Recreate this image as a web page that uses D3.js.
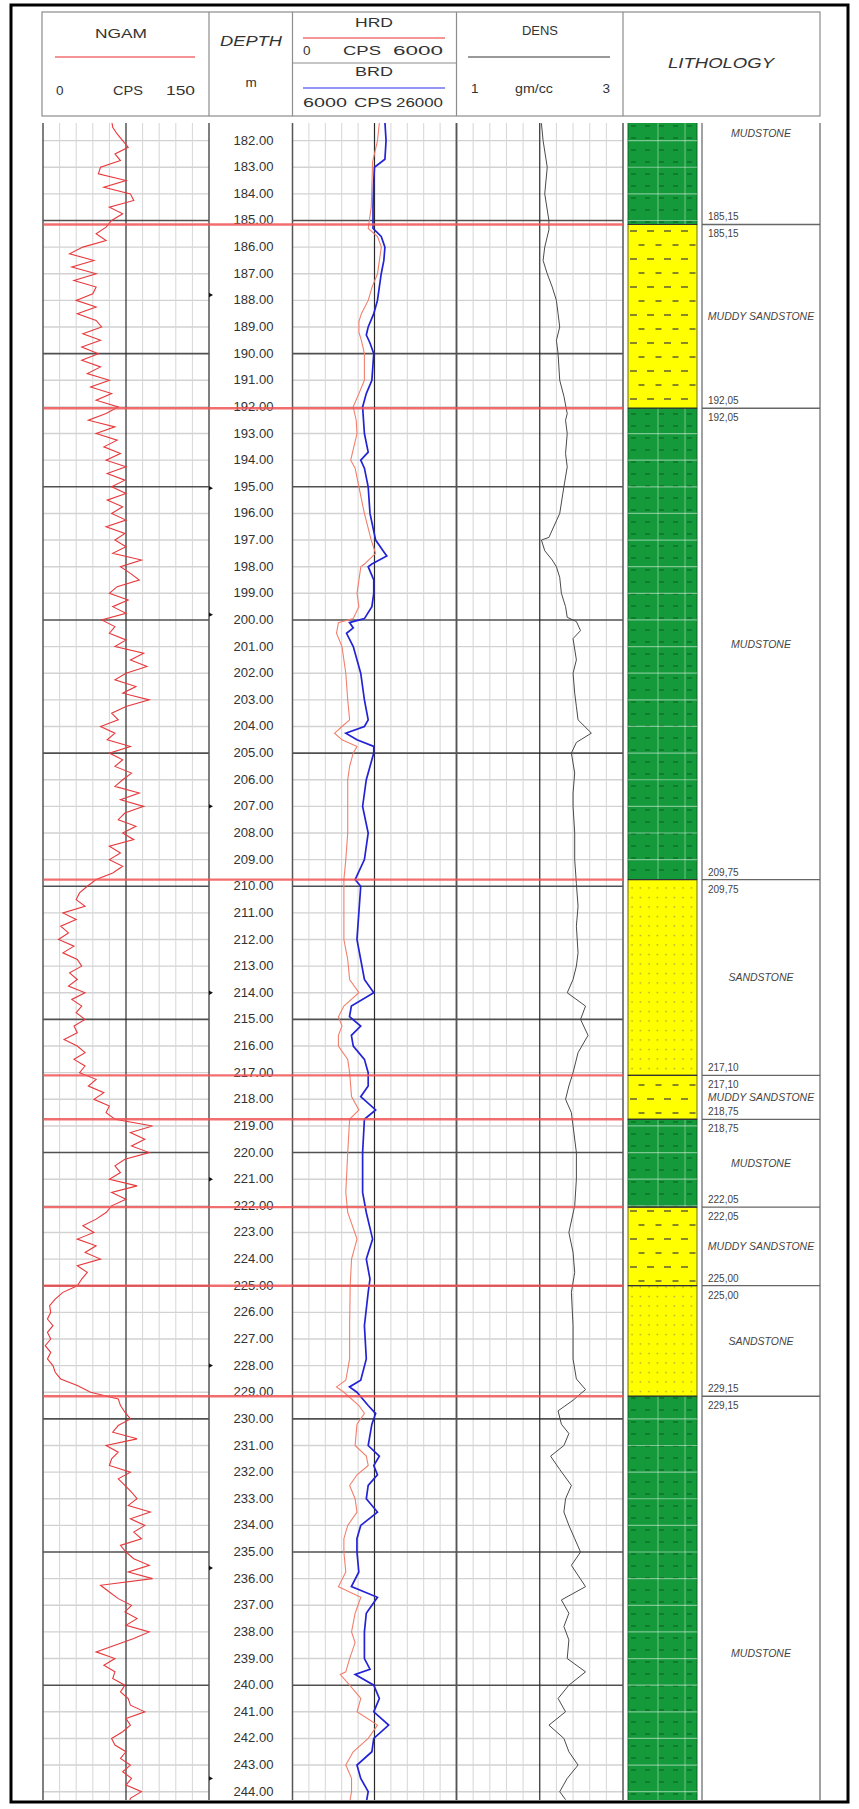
<!DOCTYPE html>
<html><head><meta charset="utf-8">
<script src="https://cdn.jsdelivr.net/npm/d3@7/dist/d3.min.js"></script>
<style>
body{margin:0;background:#fff}
svg{display:block}
text{font-family:"Liberation Sans",Arial,Helvetica,sans-serif}
</style>
</head><body>
<svg id="chart" width="859" height="1809"></svg>
<script>
// ---------------- DATA ----------------
// NGAM (CPS), sampled every 0.25 m starting at 181.25 m
const ngamStart = 181.25, ngamStep = 0.25;
const ngamValues = [
  62,63,67,
  72,77,65,70, 52,50,75,55, 79,82,60,72, 62,57,48,57, 36,24,46,26,
  48,28,48,45, 30,48,31,48, 53,36,52,35, 50,35,52,40, 60,43,62,48,
  68,57,41,65, 48,67,55,70, 57,75,58,74, 62,75,58,72, 62,75,57,74,
  65,75,63,89, 70,79,87,67, 60,77,63,75, 53,65,60,75, 65,91,79,94,
  75,65,84,72, 96,75,62,68, 52,65,58,79, 60,72,65,80, 72,65,87,70,
  91,74,68,84, 72,82,60,70, 60,72,63,48, 40,33,30,38, 18,30,16,23,
  14,28,18,31, 35,24,31,23, 38,26,35,30, 38,28,31,19, 31,38,28,38,
  33,48,41,55, 46,60,57,65, 99,79,92,80, 96,74,65,70, 60,85,62,75,
  62,57,48,36, 46,31,48,38, 52,31,40,35, 31,18,11,6, 7,4,9,4,
  7,2,7,4, 9,11,16,31, 43,68,70,74, 79,68,63,85, 57,68,62,60,
  79,68,74,80, 85,77,97,79, 92,82,89,70, 75,82,96,77, 99,52,60,68,
  80,74,85,75, 96,82,65,48, 65,55,65,63, 74,70,77,79, 92,75,79,72,
  62,65,75,70, 79,72,80,75,
  89,79,77
];

// HRD (CPS, 0-6000)
const hrdDepths = [181.3,182.0,182.8,183.5,184.5,185.3,185.6,186.0,186.5,187.0,187.5,188.0,188.5,188.8,189.2,189.5,190.0,191.0,191.5,192.0,192.5,193.0,193.6,194.0,194.3,195.0,196.0,197.0,197.5,197.9,198.0,199.0,199.5,199.95,200.1,200.5,201.0,202.0,203.0,203.75,204.0,204.25,204.5,204.75,205.0,205.5,206.0,207.0,208.0,209.0,209.75,211.0,212.0,212.75,213.5,214.0,214.5,214.9,215.25,215.6,216.0,216.5,217.0,217.9,218.4,218.75,220.0,221.5,222.25,223.25,224.0,225.0,226.5,227.75,228.55,228.8,229.0,229.5,229.8,230.2,231.0,231.4,231.75,232.1,232.5,233.0,233.5,234.0,234.5,235.0,235.75,236.3,236.7,237.3,238.0,238.4,239.0,239.5,239.6,240.0,240.5,241.0,241.5,242.0,242.5,243.0,243.5,244.0,244.4];
const hrdValues = [3180,3110,2930,2910,2880,2770,3110,3250,3180,3110,2910,2770,2520,2430,2430,2520,2630,2630,2430,2220,2330,2360,2220,2130,2290,2430,2630,2880,3040,2630,2500,2360,2430,2220,1680,1610,1810,1950,2020,2090,1810,1540,1810,2360,2220,2090,2020,2020,2020,1950,1880,1880,1880,2020,2090,2430,1880,1680,1810,1680,1680,2020,2090,2160,2430,2090,2020,1950,2020,2360,2160,2110,2090,2090,1950,1610,1880,2430,2630,2360,2290,2700,2770,2360,2090,2290,2360,2020,1880,1880,1950,1680,2500,2290,2160,2290,2090,1950,1750,2090,2500,2360,3110,2770,2220,1950,2160,2160,2090];

// BRD (CPS, 6000-26000)
const brdDepths = [181.3,182.0,182.7,183.0,183.5,184.5,185.3,185.6,186.0,186.5,187.0,188.0,188.5,189.0,189.3,189.6,190.0,191.0,191.5,192.0,193.0,193.7,194.0,194.3,195.0,196.0,197.0,197.4,197.6,197.9,198.0,198.5,199.0,199.5,199.95,200.1,200.3,200.5,201.0,202.0,203.0,203.75,204.0,204.25,204.5,204.75,205.0,205.5,206.0,207.0,208.0,209.0,209.75,210.0,211.0,212.0,212.75,213.5,214.0,214.5,214.9,215.25,215.6,216.0,216.5,217.0,217.5,217.9,218.4,218.75,220.0,221.5,222.25,223.25,224.0,224.75,225.25,226.5,227.75,228.55,228.8,229.0,229.5,229.8,230.2,231.0,231.4,231.75,232.1,232.5,233.0,233.5,234.0,234.5,235.0,235.75,236.3,236.7,237.3,238.0,238.4,239.0,239.4,239.6,240.0,240.5,241.0,241.5,242.0,242.5,243.0,243.5,244.0,244.4];
const brdValues = [17270,17410,17270,16000,15910,15820,15820,16820,17270,17140,16820,16360,15910,15230,15000,15450,15910,15680,15000,14550,14770,15230,14320,14770,15230,15450,16140,17040,17500,15680,15230,15910,15910,15680,14770,12950,13410,12590,13410,14320,14770,15230,14770,12500,13860,15910,15910,15450,15000,14550,15230,14770,13640,14320,14090,13860,14320,14770,15910,13180,12950,14320,13180,13410,14770,15230,15230,14320,16140,14770,14550,14550,15000,15770,15000,15450,15230,14770,15000,14320,12950,13860,15230,16140,15680,15230,16590,15910,16360,15230,15000,16360,14320,13860,13860,14090,13180,16360,15000,14770,14770,14770,15450,13640,15910,16590,15910,17730,15910,15680,13860,14320,15230,15000];

// DENS (gm/cc, 1-3)
const densDepths = [181.35,182.0,183.0,184.0,185.0,185.35,186.0,186.5,187.0,187.5,188.0,188.5,189.0,189.5,190.0,191.0,191.6,192.25,192.5,193.0,193.75,194.25,195.0,196.0,196.9,197.0,197.4,197.75,198.0,198.4,199.0,199.5,199.9,200.06,200.4,200.7,201.5,202.0,202.75,203.25,203.75,204.25,204.6,205.0,205.75,206.5,207.0,208.0,209.0,209.9,210.75,211.5,212.5,213.0,213.5,214.0,214.5,215.0,215.6,216.25,217.0,217.5,218.0,218.5,219.0,220.0,221.0,222.0,223.0,223.75,224.5,225.25,226.5,227.75,228.5,228.9,229.3,229.7,230.2,230.55,231.0,231.4,231.9,232.5,233.0,233.5,234.0,234.5,235.0,235.5,236.3,236.8,237.3,237.8,238.3,239.0,239.5,240.0,240.5,241.0,241.5,242.0,242.5,243.0,243.5,244.0,244.3];
const densValues = [2.02,2.04,2.09,2.06,2.11,2.11,2.06,2.04,2.09,2.15,2.20,2.22,2.24,2.20,2.22,2.24,2.29,2.33,2.31,2.33,2.31,2.33,2.29,2.24,2.11,2.02,2.06,2.15,2.20,2.24,2.26,2.31,2.33,2.44,2.49,2.40,2.44,2.40,2.42,2.44,2.46,2.62,2.44,2.38,2.42,2.40,2.40,2.42,2.42,2.44,2.46,2.44,2.46,2.44,2.40,2.33,2.55,2.49,2.58,2.46,2.40,2.35,2.31,2.38,2.40,2.44,2.44,2.42,2.35,2.40,2.42,2.38,2.40,2.40,2.44,2.55,2.40,2.22,2.26,2.35,2.29,2.13,2.24,2.38,2.31,2.29,2.35,2.42,2.49,2.38,2.55,2.26,2.35,2.29,2.35,2.33,2.55,2.35,2.22,2.31,2.11,2.29,2.35,2.46,2.33,2.24,2.31];

// Lithology intervals (m)
const lithTops    = [178.25,185.15,192.05,209.75,217.10,218.75,222.05,225.00,229.15];
const lithBottoms = [185.15,192.05,209.75,217.10,218.75,222.05,225.00,229.15,248.45];
const lithNames   = ["MUDSTONE","MUDDY SANDSTONE","MUDSTONE","SANDSTONE","MUDDY SANDSTONE","MUDSTONE","MUDDY SANDSTONE","SANDSTONE","MUDSTONE"];

// depth-track marker depths
const markerDepths = [187.8,195.05,199.8,207.0,214.0,221.0,228.0,235.6,243.5];

// header scale labels
const ngamScaleLabels = ["0","CPS","150"];
const hrdScaleLabels  = ["0","CPS","6000"];
const brdScaleLabels  = ["6000","CPS","26000"];
const densScaleLabels = ["1","gm/cc","3"];

// ---------------- LAYOUT ----------------
const svg = d3.select("#chart");
const T = {top:123, bottom:1800,
  ngam:[43,209], depth:[209,292.5], hrd:[292.5,456.5], dens:[456.5,623],
  lith:[628,697], desc:[702,820]};

const y = d3.scaleLinear().domain([182,244]).range([140.6,1791.7]);
const xNgam = d3.scaleLinear().domain([0,150]).range(T.ngam);
const xHrd  = d3.scaleLinear().domain([0,6000]).range(T.hrd);
const xBrd  = d3.scaleLinear().domain([6000,26000]).range(T.hrd);
const xDens = d3.scaleLinear().domain([1,3]).range(T.dens);

const dTop = y.invert(T.top), dBot = y.invert(T.bottom);
const meters = d3.range(Math.ceil(dTop), Math.floor(dBot)+1);

const defs = svg.append("defs");
defs.append("clipPath").attr("id","clipTracks").append("rect")
  .attr("x",0).attr("y",T.top).attr("width",859).attr("height",T.bottom-T.top);

// patterns
const pMud = defs.append("pattern").attr("id","pMud").attr("patternUnits","userSpaceOnUse")
  .attr("width",14).attr("height",12).attr("x",T.lith[0]).attr("y",0);
pMud.append("rect").attr("width",14).attr("height",12).attr("fill","#14993b");
pMud.append("line").attr("x1",3).attr("x2",8).attr("y1",6).attr("y2",6).attr("stroke","#0c6a28").attr("stroke-width",1.3);

const pMuddy = defs.append("pattern").attr("id","pMuddy").attr("patternUnits","userSpaceOnUse")
  .attr("width",17).attr("height",28).attr("x",T.lith[0]).attr("y",0);
pMuddy.append("rect").attr("width",17).attr("height",28).attr("fill","#ffff00");
pMuddy.append("line").attr("x1",2).attr("x2",9).attr("y1",7).attr("y2",7).attr("stroke","#555530").attr("stroke-width",1.4);
pMuddy.append("line").attr("x1",10.5).attr("x2",16.5).attr("y1",21).attr("y2",21).attr("stroke","#555530").attr("stroke-width",1.4);

const pSand = defs.append("pattern").attr("id","pSand").attr("patternUnits","userSpaceOnUse")
  .attr("width",8.5).attr("height",9.5).attr("x",T.lith[0]).attr("y",0);
pSand.append("rect").attr("width",8.5).attr("height",9.5).attr("fill","#ffff00");
pSand.append("circle").attr("cx",4).attr("cy",4.5).attr("r",0.75).attr("fill","#8a8a50");

const patternOf = n => n==="MUDSTONE" ? "url(#pMud)" : (n==="SANDSTONE" ? "url(#pSand)" : "url(#pMuddy)");

// ---------------- OUTER FRAME & HEADER ----------------
svg.append("rect").attr("x",11).attr("y",5).attr("width",837).attr("height",1797)
  .attr("fill","#fff").attr("stroke","#000").attr("stroke-width",3);

const hdr = svg.append("g");
const hTop = 12, hBot = 116;
hdr.append("rect").attr("x",42).attr("y",hTop).attr("width",820-42).attr("height",hBot-hTop)
  .attr("fill","none").attr("stroke","#8c8c8c").attr("stroke-width",1.2);
[T.ngam[1], T.hrd[0], T.hrd[1], T.dens[1]].forEach(x=>{
  hdr.append("line").attr("x1",x).attr("x2",x).attr("y1",hTop).attr("y2",hBot)
    .attr("stroke","#8c8c8c").attr("stroke-width",1.2);
});
hdr.append("line").attr("x1",T.hrd[0]).attr("x2",T.hrd[1]).attr("y1",63).attr("y2",63)
  .attr("stroke","#8c8c8c").attr("stroke-width",1.2);

function txt(g, x, yy, s, o={}){
  const t = g.append("text").attr("x",x).attr("y",yy).text(s)
    .attr("font-size",o.size||13).attr("fill",o.fill||"#333")
    .attr("text-anchor",o.anchor||"middle");
  if(o.italic) t.attr("font-style","italic");
  if(o.len){ t.attr("textLength",o.len).attr("lengthAdjust","spacingAndGlyphs"); }
  if(o.db) t.attr("dominant-baseline",o.db);
  return t;
}
// labels: [text], positions [x0 (start), center, x1 (end)], lengths
function scaleRow(g, labels, pos, lens, yy){
  txt(g, pos[0], yy, labels[0], {anchor:"start", size:13.5, len:lens[0]});
  txt(g, pos[1], yy, labels[1], {anchor:"middle", size:13.5, len:lens[1]});
  txt(g, pos[2], yy, labels[2], {anchor:"end", size:13.5, len:lens[2]});
}
// NGAM
txt(hdr, 121, 38, "NGAM", {size:13.5, len:52});
hdr.append("line").attr("x1",55).attr("x2",195).attr("y1",57).attr("y2",57).attr("stroke","#f07070").attr("stroke-width",1.6);
scaleRow(hdr, ngamScaleLabels, [56,128,195], [null,30,29], 95);
// DEPTH
txt(hdr, 251, 46, "DEPTH", {size:14, italic:true, len:62});
txt(hdr, 251, 87, "m", {size:13.5});
// HRD / BRD
txt(hdr, 374, 27, "HRD", {size:13.5, len:38});
hdr.append("line").attr("x1",303).attr("x2",445).attr("y1",38).attr("y2",38).attr("stroke","#f07070").attr("stroke-width",1.6);
scaleRow(hdr, hrdScaleLabels, [303,362,443], [null,38,50], 55);
txt(hdr, 374, 76, "BRD", {size:13.5, len:38});
hdr.append("line").attr("x1",303).attr("x2",445).attr("y1",88).attr("y2",88).attr("stroke","#7070f0").attr("stroke-width",1.6);
scaleRow(hdr, brdScaleLabels, [303,373,443], [44,38,47], 107);
// DENS
txt(hdr, 540, 35, "DENS", {size:13.5, len:36});
hdr.append("line").attr("x1",468).attr("x2",610).attr("y1",57).attr("y2",57).attr("stroke","#777").attr("stroke-width",1.6);
scaleRow(hdr, densScaleLabels, [471,534,610], [null,38,null], 93);
// LITHOLOGY
txt(hdr, 721, 68, "LITHOLOGY", {size:14, italic:true, len:106});

// ---------------- GRIDS ----------------
const gridG = svg.append("g");
function grid(x0, x1){
  const xs = d3.scaleLinear().domain([0,10]).range([x0,x1]);
  const minorV = [1,2,3,4,6,7,8,9], majorV = [0,5,10];
  meters.filter(d=>d%5!==0).forEach(d=>{
    gridG.append("line").attr("x1",x0).attr("x2",x1).attr("y1",y(d)).attr("y2",y(d))
      .attr("stroke","#d2d2d2").attr("stroke-width",1.4);
  });
  minorV.forEach(i=>{
    gridG.append("line").attr("x1",xs(i)).attr("x2",xs(i)).attr("y1",T.top).attr("y2",T.bottom)
      .attr("stroke","#d6d6d6").attr("stroke-width",1);
  });
  meters.filter(d=>d%5===0).forEach(d=>{
    gridG.append("line").attr("x1",x0).attr("x2",x1).attr("y1",y(d)).attr("y2",y(d))
      .attr("stroke","#505050").attr("stroke-width",1.6);
  });
  majorV.forEach(i=>{
    gridG.append("line").attr("x1",xs(i)).attr("x2",xs(i)).attr("y1",T.top).attr("y2",T.bottom)
      .attr("stroke", i===5?"#2a2a2a":"#555").attr("stroke-width",i===5?1.2:1.5);
  });
}
grid(T.ngam[0], T.ngam[1]);
grid(T.hrd[0], T.hrd[1]);
grid(T.dens[0], T.dens[1]);

// depth labels
const depG = svg.append("g");
meters.forEach(d=>{
  txt(depG, 253.5, y(d), d3.format(".2f")(d), {size:12, fill:"#333", db:"central", len:40});
});
markerDepths.forEach(d=>{
  depG.append("path").attr("d",`M${T.depth[0]},${y(d)-2.2}L${T.depth[0]+4},${y(d)}L${T.depth[0]},${y(d)+2.2}Z`).attr("fill","#111");
});

// ---------------- CURVES ----------------
const curveG = svg.append("g").attr("clip-path","url(#clipTracks)");
const ngamData = ngamValues.map((v,i)=>({d: ngamStart + i*ngamStep, v}));
const pair = (ds, vs) => ds.map((d,i)=>({d, v: vs[i]}));

curveG.append("path").datum(ngamData)
  .attr("d", d3.line().x(p=>xNgam(p.v)).y(p=>y(p.d)))
  .attr("fill","none").attr("stroke","#e8383c").attr("stroke-width",1.1);
curveG.append("path").datum(pair(hrdDepths,hrdValues))
  .attr("d", d3.line().x(p=>xHrd(p.v)).y(p=>y(p.d)))
  .attr("fill","none").attr("stroke","#f27f6c").attr("stroke-width",1.1);
curveG.append("path").datum(pair(brdDepths,brdValues))
  .attr("d", d3.line().x(p=>xBrd(p.v)).y(p=>y(p.d)))
  .attr("fill","none").attr("stroke","#2323d6").attr("stroke-width",1.7);
curveG.append("path").datum(pair(densDepths,densValues))
  .attr("d", d3.line().x(p=>xDens(p.v)).y(p=>y(p.d)))
  .attr("fill","none").attr("stroke","#4a4a4a").attr("stroke-width",1);

// red boundary lines
const redG = svg.append("g");
lithTops.slice(1).forEach(d=>{
  redG.append("line").attr("x1",T.ngam[0]).attr("x2",T.dens[1]).attr("y1",y(d)).attr("y2",y(d))
    .attr("stroke","#f05555").attr("stroke-width",2.4).attr("stroke-opacity",0.85);
});

// ---------------- LITHOLOGY ----------------
const lithG = svg.append("g").attr("clip-path","url(#clipTracks)");
lithNames.forEach((n,i)=>{
  const y0 = y(lithTops[i]), y1 = y(lithBottoms[i]);
  lithG.append("rect").attr("x",T.lith[0]).attr("y",y0).attr("width",T.lith[1]-T.lith[0]).attr("height",y1-y0)
    .attr("fill",patternOf(n)).attr("stroke", n==="MUDSTONE"?"#0a5a20":"#5a5a20").attr("stroke-width",0.9);
  if(n==="MUDSTONE"){
    meters.filter(d=>d>lithTops[i] && d<lithBottoms[i]).forEach(d=>{
      lithG.append("line").attr("x1",T.lith[0]).attr("x2",T.lith[1]).attr("y1",y(d)).attr("y2",y(d))
        .attr("stroke","#fff").attr("stroke-opacity",0.45).attr("stroke-width",1.2);
    });
    [658,685].forEach(x=>{
      lithG.append("line").attr("x1",x).attr("x2",x).attr("y1",y0).attr("y2",y1)
        .attr("stroke","#fff").attr("stroke-opacity",0.4).attr("stroke-width",1);
    });
  }
});
lithTops.slice(1).forEach(d=>{
  lithG.append("line").attr("x1",T.lith[0]).attr("x2",T.lith[1]).attr("y1",y(d)).attr("y2",y(d))
    .attr("stroke","#333").attr("stroke-width",1.2);
});

// description column
const descG = svg.append("g");
[T.desc[0], T.desc[1]].forEach(x=>{
  descG.append("line").attr("x1",x).attr("x2",x).attr("y1",T.top).attr("y2",T.bottom)
    .attr("stroke","#7a7a7a").attr("stroke-width",1.4);
});
lithTops.slice(1).forEach(d=>{
  descG.append("line").attr("x1",T.desc[0]).attr("x2",T.desc[1]).attr("y1",y(d)).attr("y2",y(d))
    .attr("stroke","#666").attr("stroke-width",1.3);
});
const fmtC = d => d3.format(".2f")(d).replace(".",",");
lithNames.forEach((n,i)=>{
  const y0 = y(lithTops[i]), y1 = y(lithBottoms[i]);
  txt(descG, 761, (y0+y1)/2, n, {size:10.5, italic:true, fill:"#444", db:"central"});
  if(y0 > T.top) txt(descG, 708, y0+13, fmtC(lithTops[i]), {size:10, anchor:"start", fill:"#444"});
  if(y1 < T.bottom) txt(descG, 708, y1-4, fmtC(lithBottoms[i]), {size:10, anchor:"start", fill:"#444"});
});
</script>
</body></html>
